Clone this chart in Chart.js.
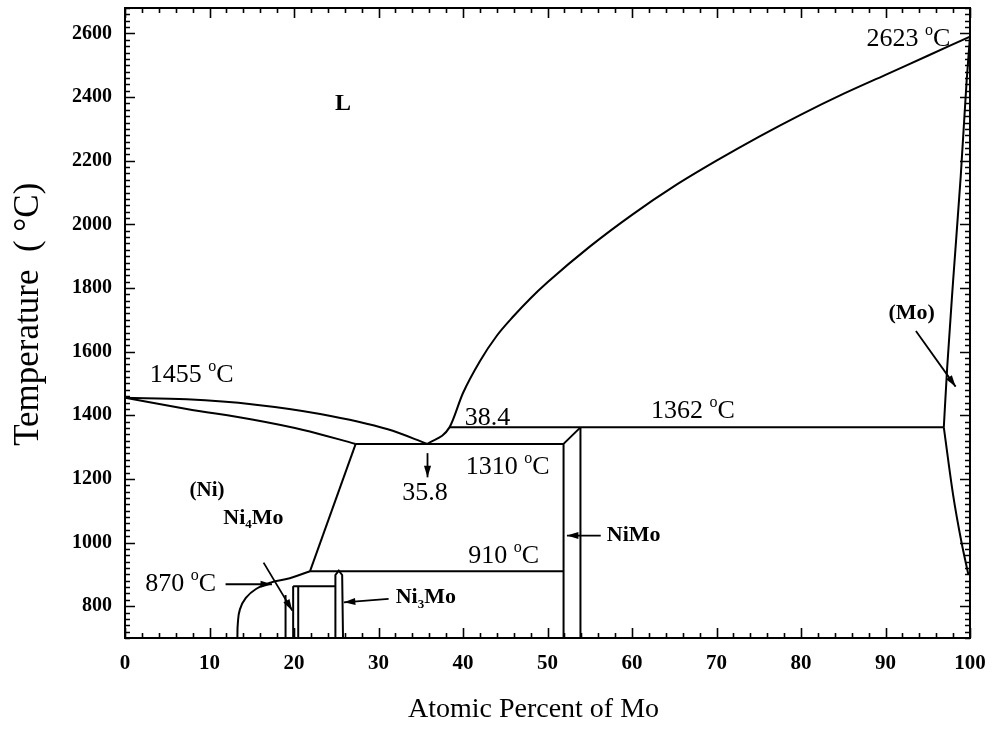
<!DOCTYPE html>
<html>
<head>
<meta charset="utf-8">
<title>Ni-Mo phase diagram</title>
<script src="https://cdn.jsdelivr.net/npm/chart.js@4.4.1/dist/chart.umd.min.js"></script>
<style>
  html, body { margin: 0; padding: 0; background: #fff; }
</style>
</head>
<body>
<canvas id="phaseChart" width="997" height="730"></canvas>
<script>
// tick labels
const xTicks = [0, 10, 20, 30, 40, 50, 60, 70, 80, 90, 100];
const yTicks = [800, 1000, 1200, 1400, 1600, 1800, 2000, 2200, 2400, 2600];

// phase boundaries, [at.% Mo, °C]
const liquidusNi = [[0, 1455], [7.3, 1450], [15.2, 1434], [23.1, 1404], [31.1, 1356], [35.8, 1310]];
const solidusNi = [[0, 1455], [7.3, 1420], [15.2, 1386], [21.1, 1354], [27.3, 1310]];
const liquidusMo = [[35.8, 1310], [38.4, 1362], [40, 1470], [42, 1570], [44, 1650], [46, 1712], [48, 1768],
  [50, 1818], [55, 1930], [60, 2030], [65, 2120], [70, 2200], [75, 2275], [80, 2345], [85, 2410],
  [90, 2470], [95, 2530], [100, 2590]];
const eutecticLine = [[27.3, 1310], [51.9, 1310]];
const peritecticLine = [[38.4, 1362], [96.9, 1362]];
const niSolvus = [[27.3, 1310], [21.9, 910]];
const niSolvusLow = [[21.9, 910], [19.5, 888], [17.2, 874], [15.5, 854], [14.3, 826], [13.6, 790], [13.35, 745], [13.3, 700]];
const eutectoidLine = [[21.9, 910], [51.9, 910]];
const niMoLeft = [[51.9, 700], [51.9, 1310], [53.9, 1362]];
const niMoRight = [[53.9, 1362], [53.9, 700]];
const ni4MoA = [[19.0, 700], [19.0, 835]];
const ni4MoB = [[19.9, 700], [19.9, 863]];
const ni4MoC = [[20.5, 700], [20.5, 863]];
const ni4MoTop = [[19.9, 863], [24.9, 863]];
const ni3Mo = [[24.9, 700], [24.9, 898], [25.3, 912], [25.7, 898], [25.8, 700]];
const solidusMo = [[96.9, 1362], [97.3, 1550], [98.0, 1822], [98.9, 2150], [99.6, 2450], [100, 2590]];
const solvusMo = [[96.9, 1362], [98.0, 1150], [99.0, 1000], [99.8, 900]];

const monotone = [liquidusNi, solidusNi, liquidusMo, solidusMo, solvusMo];
const lines = [liquidusNi, solidusNi, liquidusMo, eutecticLine, peritecticLine, niSolvus, niSolvusLow,
  eutectoidLine, niMoLeft, niMoRight, ni4MoA, ni4MoB, ni4MoC, ni4MoTop, ni3Mo, solidusMo, solvusMo];

// text labels and arrows, placed in data coordinates
const notes = [
  { parts: [["L"]], x: 25.8, y: 2379, bold: true, size: 24 },
  { parts: [["2623 "], ["o", "sup"], ["C"]], x: 92.7, y: 2583, size: 26 },
  { parts: [["1455 "], ["o", "sup"], ["C"]], x: 7.9, y: 1526, size: 26 },
  { parts: [["(Ni)"]], x: 9.7, y: 1162, bold: true, size: 21 },
  { parts: [["38.4"]], x: 42.9, y: 1390, size: 26 },
  { parts: [["1362 "], ["o", "sup"], ["C"]], x: 67.2, y: 1412, size: 26 },
  { parts: [["1310 "], ["o", "sup"], ["C"]], x: 45.3, y: 1237, size: 26 },
  { parts: [["35.8"]], x: 35.5, y: 1155, size: 26 },
  { parts: [["910 "], ["o", "sup"], ["C"]], x: 44.8, y: 957, size: 26 },
  { parts: [["NiMo"]], x: 60.2, y: 1022, bold: true, size: 22 },
  { parts: [["Ni"], ["4", "sub"], ["Mo"]], x: 15.2, y: 1076, bold: true, size: 22 },
  { parts: [["870 "], ["o", "sup"], ["C"]], x: 6.6, y: 869, size: 26 },
  { parts: [["Ni"], ["3", "sub"], ["Mo"]], x: 35.6, y: 827, bold: true, size: 22 },
  { parts: [["(Mo)"]], x: 93.1, y: 1721, bold: true, size: 22 }
];
const arrows = [
  [[35.8, 1281], [35.8, 1205]],
  [[56.3, 1022], [52.3, 1022]],
  [[11.9, 869], [17.4, 869]],
  [[16.4, 937], [19.8, 786]],
  [[31.2, 823], [25.9, 812]],
  [[93.6, 1665], [98.3, 1490]]
];

const serif = "'Liberation Serif', 'Times New Roman', serif";

const frameTicks = {
  id: "frameTicks",
  afterDatasetsDraw(chart) {
    const { ctx, chartArea: a, scales: { x, y } } = chart;
    ctx.save();
    ctx.strokeStyle = "#000";
    ctx.lineWidth = 2;
    ctx.strokeRect(a.left, a.top, a.right - a.left, a.bottom - a.top);
    ctx.lineWidth = 1.6;
    ctx.beginPath();
    for (let v = 0; v <= 100; v += 2) {
      const px = Math.round(x.getPixelForValue(v)) + 0.5;
      const len = v % 10 === 0 ? 10 : 5;
      ctx.moveTo(px, a.bottom); ctx.lineTo(px, a.bottom - len);
      ctx.moveTo(px, a.top); ctx.lineTo(px, a.top + len);
    }
    for (let v = 700; v <= y.max; v += 20) {
      const py = Math.round(y.getPixelForValue(v)) + 0.5;
      const len = v % 200 === 0 ? 10 : 5;
      ctx.moveTo(a.left, py); ctx.lineTo(a.left + len, py);
      ctx.moveTo(a.right, py); ctx.lineTo(a.right - len, py);
    }
    ctx.stroke();
    ctx.restore();
  }
};

const notesPlugin = {
  id: "notes",
  afterDatasetsDraw(chart) {
    const { ctx, scales: { x, y } } = chart;
    ctx.save();
    ctx.fillStyle = "#000";
    ctx.strokeStyle = "#000";
    ctx.textBaseline = "middle";
    notes.forEach(n => {
      const main = (n.bold ? "bold " : "") + n.size + "px " + serif;
      const small = (n.bold ? "bold " : "") + Math.round(n.size * 0.6) + "px " + serif;
      let total = 0;
      n.parts.forEach(p => { ctx.font = p[1] ? small : main; total += ctx.measureText(p[0]).width; });
      let cx = x.getPixelForValue(n.x) - total / 2;
      const cy = y.getPixelForValue(n.y);
      n.parts.forEach(p => {
        ctx.font = p[1] ? small : main;
        let dy = 0;
        if (p[1] === "sub") dy = n.size * 0.3;
        if (p[1] === "sup") dy = -n.size * 0.32;
        ctx.fillText(p[0], cx, cy + dy);
        cx += ctx.measureText(p[0]).width;
      });
    });
    ctx.lineWidth = 1.8;
    arrows.forEach(([from, to]) => {
      const x1 = x.getPixelForValue(from[0]), y1 = y.getPixelForValue(from[1]);
      const x2 = x.getPixelForValue(to[0]), y2 = y.getPixelForValue(to[1]);
      const ang = Math.atan2(y2 - y1, x2 - x1);
      ctx.beginPath();
      ctx.moveTo(x1, y1); ctx.lineTo(x2, y2);
      ctx.stroke();
      ctx.beginPath();
      ctx.moveTo(x2, y2);
      ctx.lineTo(x2 - 12 * Math.cos(ang - 0.3), y2 - 12 * Math.sin(ang - 0.3));
      ctx.lineTo(x2 - 12 * Math.cos(ang + 0.3), y2 - 12 * Math.sin(ang + 0.3));
      ctx.closePath();
      ctx.fill();
    });
    ctx.restore();
  }
};

new Chart(document.getElementById("phaseChart"), {
  type: "scatter",
  data: {
    datasets: lines.map(arr => ({
      data: arr.map(p => ({ x: p[0], y: p[1] })),
      showLine: true,
      borderColor: "#000",
      borderWidth: 2,
      pointRadius: 0,
      fill: false,
      cubicInterpolationMode: monotone.includes(arr) ? "monotone" : "default",
      tension: arr === niSolvusLow ? 0.45 : (monotone.includes(arr) ? 0.4 : 0)
    }))
  },
  options: {
    responsive: false,
    animation: false,
    devicePixelRatio: 1,
    layout: { padding: { top: 8, right: 27, left: 0, bottom: 0 } },
    plugins: { legend: { display: false }, tooltip: { enabled: false } },
    scales: {
      x: {
        type: "linear",
        min: 0,
        max: 100,
        grid: { display: false, drawTicks: false },
        border: { display: false },
        afterBuildTicks: s => { s.ticks = xTicks.map(v => ({ value: v })); },
        afterFit: s => { s.height = 92; s.paddingLeft = 0; s.paddingRight = 0; },
        ticks: { color: "#000", padding: 13, maxRotation: 0, autoSkip: false, callback: v => String(v),
          font: { family: serif, size: 21, weight: "bold" } },
        title: { display: true, text: "Atomic Percent of Mo    ", color: "#000",
          font: { family: serif, size: 28 }, padding: { top: 4, bottom: 4 } }
      },
      y: {
        type: "linear",
        min: 700,
        max: 2680,
        grid: { display: false, drawTicks: false },
        border: { display: false },
        afterBuildTicks: s => { s.ticks = yTicks.map(v => ({ value: v })); },
        afterFit: s => { s.width = 125; s.paddingTop = 0; s.paddingBottom = 0; },
        ticks: { color: "#000", padding: 13, autoSkip: false, callback: v => String(v),
          font: { family: serif, size: 20, weight: "bold" } },
        title: { display: true, text: "  Temperature  ( °C)", color: "#000",
          font: { family: serif, size: 35 }, padding: { top: 8, bottom: 4 } }
      }
    }
  },
  plugins: [frameTicks, notesPlugin]
});
</script>
</body>
</html>
